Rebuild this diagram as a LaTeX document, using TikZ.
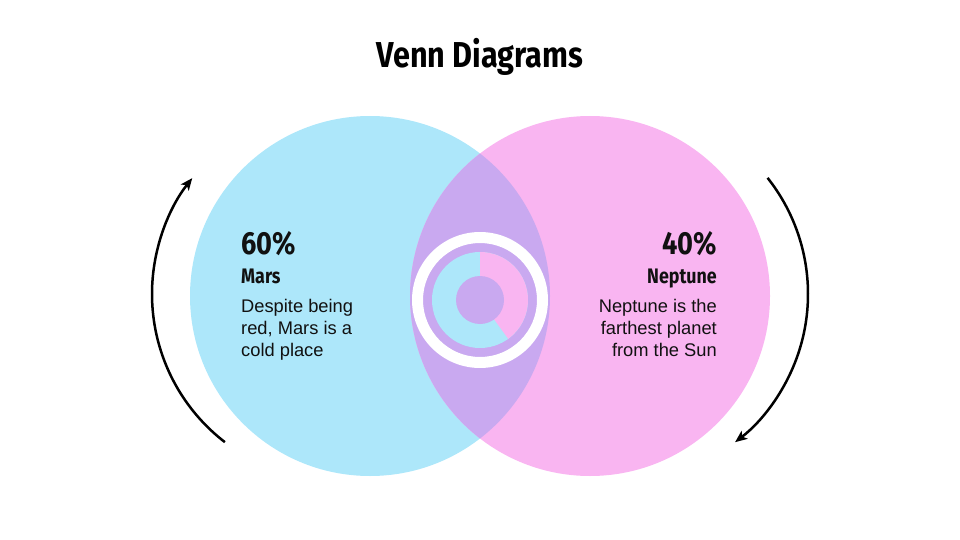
\documentclass[tikz,border=0pt]{standalone}
\usepackage{fontspec}
\setmainfont{Liberation Sans}
\newfontfamily\headfont[FakeStretch=0.85]{Fira Sans Bold}
\usetikzlibrary{arrows.meta}
\definecolor{venblue}{HTML}{ADE7FA}
\definecolor{venpink}{HTML}{F9B5F1}
\definecolor{venpurple}{HTML}{C9A9F0}
\definecolor{txt}{HTML}{111111}
\tikzset{
  titlestyle/.style={font=\headfont\fontsize{36}{40}\selectfont, text=black, inner sep=0pt},
  pctstyle/.style={font=\headfont\fontsize{32}{36}\selectfont, text=txt, inner sep=0pt},
  namestyle/.style={font=\headfont\fontsize{21}{24}\selectfont, text=txt, inner sep=0pt},
  bodystyle/.style={font=\fontsize{18.3}{22}\selectfont, text=txt, inner sep=0pt},
  cyclearrow/.style={line width=2.5pt, -{Stealth[length=12pt,width=10pt,inset=3pt]}},
}
\begin{document}
\begin{tikzpicture}[x=1pt,y=-1pt]
\useasboundingbox (0,0) rectangle (960,540);
% circles
\coordinate (lc) at (370,296);
\coordinate (rc) at (590,296);
\fill[venblue] (lc) circle[radius=180];
\fill[venpink] (rc) circle[radius=180];
\begin{scope}
  \clip (lc) circle[radius=180];
  \fill[venpurple] (rc) circle[radius=180];
\end{scope}
% center ring and donut
\coordinate (dc) at (480,300);
\fill[white, even odd rule] (dc) circle[radius=68] (dc) circle[radius=57];
\fill[venblue] (dc) circle[radius=48];
\fill[venpink] (dc) -- ++(-90:48) arc[start angle=-90, end angle=54, radius=48] -- cycle;
\fill[venpurple] (dc) circle[radius=24];
% title
\node[titlestyle, anchor=base] (title) at (480,68) {Venn Diagrams};
% left text
\node[pctstyle, anchor=base west] (lpct) at (241,254) {60\%};
\node[namestyle, anchor=base west] (lname) at (241,283) {Mars};
\node[bodystyle, anchor=base west] (lb1) at (241,312) {Despite being};
\node[bodystyle, anchor=base west] (lb2) at (241,334) {red, Mars is a};
\node[bodystyle, anchor=base west] (lb3) at (241,356) {cold place};
% right text
\node[pctstyle, anchor=base east] (rpct) at (717,254) {40\%};
\node[namestyle, anchor=base east] (rname) at (717,283) {Neptune};
\node[bodystyle, anchor=base east] (rb1) at (717,312) {Neptune is the};
\node[bodystyle, anchor=base east] (rb2) at (717,334) {farthest planet};
\node[bodystyle, anchor=base east] (rb3) at (717,356) {from the Sun};
% arrows
\coordinate (la) at (339,294);
\coordinate (ra) at (621,294);
\draw[cyclearrow] (la) ++(127.6:187) arc[start angle=127.6, end angle=218.3, radius=187];
\draw[cyclearrow] (ra) ++(-38.4:187) arc[start angle=-38.4, end angle=52.4, radius=187];
\end{tikzpicture}
\end{document}
